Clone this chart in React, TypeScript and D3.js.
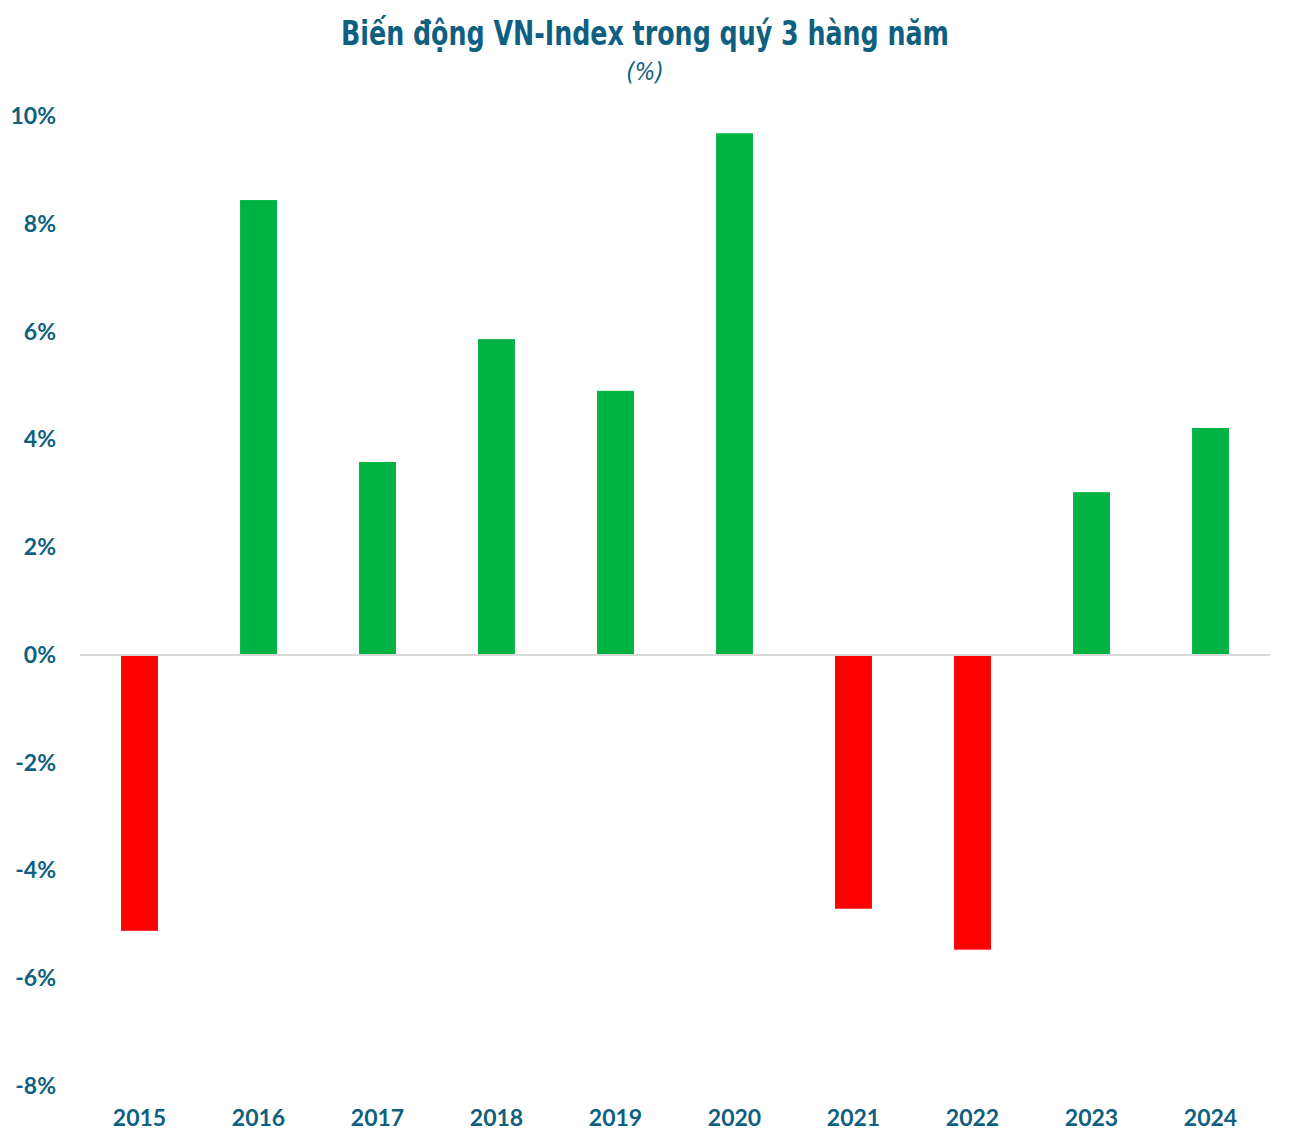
import * as d3 from 'd3'
import React from 'react';

const years = ['2015', '2016', '2017', '2018', '2019', '2020', '2021', '2022', '2023', '2024']
const changes = [-5.12, 8.44, 3.58, 5.86, 4.90, 9.68, -4.71, -5.47, 3.02, 4.21]
const yTicks = [-8, -6, -4, -2, 0, 2, 4, 6, 8, 10]

const width = 1290
const height = 1144
const margin = { left: 80, right: 20, top: 116, bottom: 58 }
const textColor = '#0F5F80'
const up = '#00B343'
const down = '#FF0000'

const x = d3.scaleBand<string>()
    .domain(years)
    .range([margin.left, width - margin.right])
    .paddingInner(0.69)
    .paddingOuter(0.345)
const y = d3.scaleLinear()
    .domain([-8, 10])
    .range([height - margin.bottom, margin.top])

export default function App() {
    const bars = years.map((yr, i) => {
        const v = changes[i]
        const y0 = y(0), y1 = y(v)
        return <rect key={yr} x={x(yr)} width={x.bandwidth()}
            y={Math.min(y0, y1)} height={Math.abs(y1 - y0)}
            fill={v >= 0 ? up : down} />
    })
    return (
        <svg width={width} height={height} viewBox={`0 0 ${width} ${height}`}
            style={{ display: 'block', margin: -8, background: '#fff' }}>
            <text x={645} y={45} textAnchor="middle" fill={textColor}
                fontFamily="'DejaVu Sans Condensed', sans-serif"
                fontWeight="bold" fontSize={34} textLength={608}
                lengthAdjust="spacingAndGlyphs">Biến động VN-Index trong quý 3 hàng năm</text>
            <text x={645} y={80} textAnchor="middle" fill={textColor}
                fontFamily="'DejaVu Sans Condensed', sans-serif"
                fontStyle="italic" fontSize={24}>(%)</text>
            {bars}
            <line x1={margin.left} x2={width - margin.right} y1={y(0)} y2={y(0)}
                stroke="#D9D9D9" strokeWidth={2} />
            {yTicks.map(t => (
                <text key={t} x={56} y={y(t)} dy="0.35em" textAnchor="end"
                    fill={textColor} fontFamily="Lato, sans-serif" fontWeight="bold"
                    fontSize={23}>{`${t}%`}</text>
            ))}
            {years.map(yr => (
                <text key={yr} x={(x(yr) ?? 0) + x.bandwidth() / 2} y={1126}
                    textAnchor="middle" fill={textColor} fontFamily="Lato, sans-serif"
                    fontWeight="bold" fontSize={23}>{yr}</text>
            ))}
        </svg>
    )
}
